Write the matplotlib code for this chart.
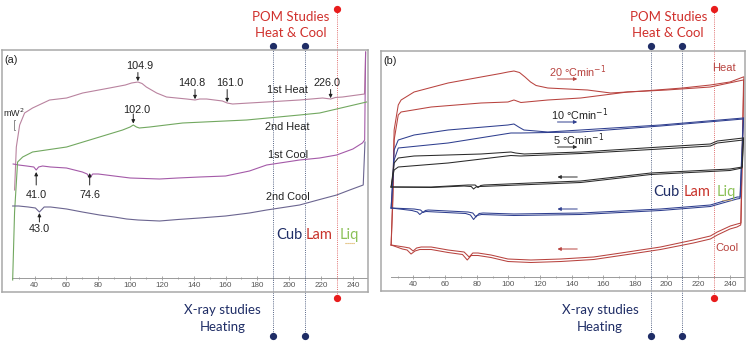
import matplotlib
matplotlib.use('Agg')
import matplotlib.pyplot as plt
import matplotlib.transforms as mtransforms

plt.rcParams['font.family'] = ['Liberation Sans', 'DejaVu Sans']

# ---------------- panel (a): DSC traces, T (degC) vs heat flow (mW, offset) ----
heat1_T = [27.4, 28.5, 30.6, 33.7, 38.7, 49.4, 60.1, 70.2, 87.1, 97.0, 100.9, 104.9, 107.5,
           110.2, 116.7, 122.9, 135.5, 140.8, 143.7, 148.1, 158.0, 161.0, 164.4, 175.0, 185.8,
           206.5, 221.0, 226.0, 229.0, 233.5, 247.3, 248.0]
heat1_HF = [10.2, 14.5, 16.7, 17.9, 18.4, 19.2, 19.4, 19.9, 20.4, 20.7, 20.9, 21.0, 20.85,
            20.5, 19.9, 19.5, 19.3, 19.2, 19.3, 19.3, 19.1, 18.9, 18.8, 18.9, 19.0,
            19.2, 19.4, 19.3, 19.45, 19.5, 19.8, 24.0]

cool1_T = [248.0, 247.4, 246.0, 240.0, 229.8, 219.1, 206.5, 185.8, 175.0, 160.0, 143.7, 130.0,
           118.5, 100.0, 90.0, 80.0, 76.5, 74.6, 73.0, 70.0, 60.0, 50.0, 45.0, 42.5, 41.0,
           39.5, 35.0, 30.0, 26.5]
cool1_HF = [24.0, 15.2, 14.9, 14.3, 13.7, 13.4, 13.2, 12.7, 12.1, 11.6, 11.5, 11.4,
            11.3, 11.4, 11.6, 11.8, 11.8, 11.4, 11.8, 12.0, 12.4, 12.5, 12.6, 12.5, 12.2,
            12.5, 12.6, 12.7, 12.8]

heat2_T = [26.2, 27.4, 29.3, 32.5, 38.7, 60.1, 80.8, 95.3, 100.0, 102.0, 104.0, 105.8, 112.3,
           133.0, 173.2, 206.5, 219.1, 248.6]
heat2_HF = [1.2, 8.0, 13.0, 13.5, 14.0, 14.5, 15.5, 16.2, 16.5, 16.7, 16.5, 16.4, 16.5,
            16.9, 17.2, 17.7, 17.9, 19.0]

cool2_T = [247.6, 246.5, 238.0, 229.8, 218.0, 206.5, 185.8, 175.0, 160.0, 143.7, 130.0, 118.5,
           105.0, 97.8, 90.0, 80.8, 70.0, 60.1, 50.0, 46.0, 43.0, 40.5, 36.0, 30.0, 26.2]
cool2_HF = [15.0, 10.7, 10.2, 9.7, 9.2, 8.7, 8.2, 7.9, 7.6, 7.4, 7.25, 7.1,
            7.2, 7.3, 7.5, 7.7, 8.0, 8.3, 8.5, 8.5, 8.0, 8.4, 8.5, 8.6, 8.6]

# labelled transition temperatures and where their labels sit
peaks_heat1 = [104.9, 140.8, 161.0, 226.0]
peaks_heat1_label_T = [106.0, 138.6, 162.5, 224.0]
peaks_heat1_label_HF = [22.6, 20.9, 20.9, 20.9]
peaks_heat1_HF = [21.0, 19.2, 18.9, 19.3]
peaks_heat2 = [102.0]
peaks_cool1 = [41.0, 74.6]
peaks_cool2 = [43.0]

# ---------------- panel (b): three heating rates (20, 10, 5 degC/min) ----------
r_heat1_T = [25.9, 27.0, 27.8, 30.4, 32.2, 40.4, 61.9, 82.7, 95.0, 99.7, 103.5, 107.0, 110.5,
             114.0, 117.5, 124.9, 137.5, 150.0, 164.6, 175.0, 185.4, 210.0, 227.6, 240.0, 248.4]
r_heat1_HF = [4.6, 10.0, 16.1, 18.6, 19.1, 19.9, 20.8, 21.4, 21.75, 21.9, 22.0, 21.85, 21.4,
              20.9, 20.55, 20.3, 20.2, 20.1, 19.8, 19.9, 20.0, 20.3, 20.6, 20.9, 21.4]
r_heat2_T = [25.9, 27.0, 27.8, 30.4, 32.2, 51.2, 82.7, 99.7, 103.5, 107.9, 124.9, 145.7, 175.3,
             200.0, 227.6, 248.4]
r_heat2_HF = [4.6, 9.0, 15.1, 17.6, 17.9, 18.4, 18.8, 18.9, 19.1, 18.85, 19.1, 19.3, 19.9,
              20.1, 20.4, 21.1]
r_cool1_T = [248.8, 247.0, 244.6, 240.2, 232.0, 227.6, 216.9, 196.1, 175.3, 153.9, 133.1, 114.2,
             99.7, 89.0, 80.8, 77.5, 75.2, 72.0, 61.9, 51.2, 44.9, 42.0, 39.8, 37.5, 34.1, 25.9]
r_cool1_HF = [21.4, 6.8, 6.7, 6.5, 5.9, 5.5, 5.1, 4.4, 3.9, 3.4, 3.2, 3.1,
              3.2, 3.6, 3.8, 3.8, 3.4, 3.9, 4.1, 4.4, 4.4, 4.3, 4.0, 4.3, 4.4, 4.6]
r_cool2_T = [248.6, 246.8, 244.4, 240.0, 232.0, 227.6, 216.9, 196.1, 175.3, 153.9, 133.1, 114.2,
             99.7, 89.0, 80.8, 76.5, 74.0, 71.0, 61.9, 51.2, 44.0, 41.0, 38.5, 36.0, 33.0, 25.9]
r_cool2_HF = [21.1, 6.6, 6.4, 6.2, 5.6, 5.2, 4.8, 4.15, 3.65, 3.15, 2.95, 2.85,
              2.95, 3.35, 3.55, 3.55, 3.1, 3.65, 3.85, 4.15, 4.15, 4.0, 3.7, 4.1, 4.2, 4.6]

b_heat1_T = [25.9, 27.0, 27.8, 30.4, 40.4, 61.9, 99.7, 103.5, 106.5, 109.8, 124.9, 145.7,
             196.1, 248.4]
b_heat1_HF = [8.3, 11.5, 14.1, 15.1, 15.6, 16.1, 16.6, 16.7, 16.4, 16.1, 15.9, 16.1,
              16.6, 17.3]
b_heat2_T = [25.9, 27.0, 27.8, 30.4, 61.9, 101.6, 107.9, 124.9, 145.7, 196.1, 248.4]
b_heat2_HF = [8.3, 11.0, 13.1, 14.3, 14.8, 15.8, 15.8, 15.85, 15.9, 16.5, 17.2]
b_cool1_T = [248.6, 246.5, 244.6, 227.6, 196.1, 145.7, 103.5, 84.0, 81.5, 79.5, 77.5, 74.5,
             49.3, 47.5, 46.1, 44.5, 40.4, 25.9]
b_cool1_HF = [17.3, 9.4, 9.4, 8.6, 8.2, 7.8, 7.7, 7.8, 7.75, 7.4, 7.8, 7.9,
              8.1, 8.05, 7.85, 8.1, 8.2, 8.3]
b_cool2_T = [248.4, 246.3, 244.4, 227.6, 196.1, 145.7, 103.5, 83.0, 80.0, 78.0, 76.0, 73.0,
             48.0, 45.5, 44.0, 42.5, 39.0, 25.9]
b_cool2_HF = [17.2, 9.25, 9.2, 8.45, 8.05, 7.65, 7.55, 7.65, 7.55, 7.15, 7.6, 7.75,
              7.95, 7.85, 7.65, 7.9, 8.05, 8.3]

k_heat1_T = [25.9, 27.0, 27.8, 30.4, 40.4, 82.7, 101.6, 104.5, 110.0, 145.7, 196.1, 227.6,
             232.0, 248.4]
k_heat1_HF = [10.4, 11.8, 12.8, 13.3, 13.5, 13.7, 13.9, 13.8, 13.7, 13.9, 14.4, 14.7,
              15.0, 15.3]
k_heat2_T = [25.9, 27.0, 27.8, 30.4, 61.9, 101.6, 107.9, 145.7, 196.1, 227.6, 232.0, 248.4]
k_heat2_HF = [10.4, 11.5, 12.1, 12.4, 12.8, 13.55, 13.5, 13.75, 14.2, 14.5, 14.8, 15.1]
k_cool1_T = [248.6, 247.8, 240.0, 190.0, 145.7, 114.2, 84.6, 82.5, 80.8, 79.0, 74.5, 51.2, 25.9]
k_cool1_HF = [15.3, 12.4, 12.2, 11.8, 11.0, 10.8, 10.6, 10.55, 10.35, 10.6, 10.6, 10.4, 10.4]
k_cool2_T = [248.4, 247.6, 240.0, 190.0, 145.7, 114.2, 82.0, 79.5, 78.0, 76.5, 72.0, 51.2, 25.9]
k_cool2_HF = [15.1, 12.3, 12.05, 11.65, 10.85, 10.65, 10.45, 10.4, 10.2, 10.45, 10.5, 10.35, 10.4]

# phase boundaries / measurement temperatures
xray_T = [190, 210]
pom_T = [230]
phases = ['Cub', 'Lam', 'Liq']
phase_T = [200, 219, 238]

NAVY = '#1f2d66'
RED = '#d0312d'
FRAME = '#a8a8a8'
TXT = '#222222'


def setup_panel(fig, rect):
    ax = fig.add_axes(rect)
    ax.set_xlim(19.5, 249.5)
    ax.set_xticks([])
    ax.set_yticks([])
    for s in ax.spines.values():
        s.set_color(FRAME)
        s.set_linewidth(1.1)
    sec = ax.secondary_xaxis(0.058)
    sec.set_xticks(range(40, 241, 20))
    sec.set_xticks(range(30, 251, 20), minor=True)
    sec.spines['bottom'].set_color('#9a9a9a')
    sec.spines['bottom'].set_linewidth(0.7)
    sec.spines['bottom'].set_bounds(26, 249)
    sec.tick_params(which='both', direction='inout', length=3, width=0.6, color='#9a9a9a',
                    labelsize=5.8, labelcolor='#555555', pad=1.5)
    sec.tick_params(which='minor', length=2)
    return ax


def study_lines(fig, ax):
    trans = mtransforms.blended_transform_factory(ax.transData, fig.transFigure)
    for T in xray_T:
        ax.plot([T, T], [0.015, 0.865], ls=(0, (1, 1.2)), lw=0.7, color='#5a6888',
                transform=trans, clip_on=False, zorder=1)
        ax.plot([T, T], [0.015, 0.865], ls='none', marker='o', ms=4.2, color=NAVY,
                transform=trans, clip_on=False)
    for T in pom_T:
        ax.plot([T, T], [0.126, 0.974], ls=(0, (1, 1.2)), lw=0.7, color='#e07070',
                transform=trans, clip_on=False, zorder=1)
        ax.plot([T, T], [0.126, 0.974], ls='none', marker='o', ms=4.2, color='#e81c1c',
                transform=trans, clip_on=False)
    ax.text(201, 0.950, 'POM Studies', transform=trans, ha='center', va='center',
            color=RED, fontsize=9.5, family=['Lato', 'DejaVu Sans'])
    ax.text(201, 0.903, 'Heat & Cool', transform=trans, ha='center', va='center',
            color=RED, fontsize=9.5, family=['Lato', 'DejaVu Sans'])
    ax.text(158, 0.091, 'X-ray studies', transform=trans, ha='center', va='center',
            color=NAVY, fontsize=9.5, family=['Lato', 'DejaVu Sans'])
    ax.text(158, 0.041, 'Heating', transform=trans, ha='center', va='center',
            color=NAVY, fontsize=9.5, family=['Lato', 'DejaVu Sans'])


def phase_labels(ax, y):
    colors = [NAVY, '#c8332b', '#8cc158']
    for name, T, c in zip(phases, phase_T, colors):
        ax.text(T, y, name, ha='center', va='center', color=c, fontsize=10.5,
                family=['Lato', 'DejaVu Sans'])
    ax.plot([234.8, 241.2], [y - 0.75, y - 0.75], ls=(0, (1, 0.8)), lw=0.8, color='#d9a84a')


def arrow(ax, x0, y0, x1, y1, color=TXT):
    ax.annotate('', xy=(x1, y1), xytext=(x0, y0),
                arrowprops=dict(arrowstyle='-|>', lw=0.7, color=color, mutation_scale=5,
                                shrinkA=0, shrinkB=0))


def main():
    fig = plt.figure(figsize=(7.5, 3.41), dpi=100)

    # ---------------- (a)
    ax = setup_panel(fig, [2 / 750, 49 / 341, 366 / 750, 242 / 341])
    ax.set_ylim(0, 24.2)
    ax.plot(heat1_T, heat1_HF, color='#b9839f', lw=0.8)
    ax.plot(cool1_T, cool1_HF, color='#a45aa8', lw=0.8)
    ax.plot(heat2_T, heat2_HF, color='#72a860', lw=0.8)
    ax.plot(cool2_T, cool2_HF, color='#6b6590', lw=0.8)

    ax.text(21, 23.2, '(a)', fontsize=7.8, color=TXT, va='center')
    ax.text(20.3, 17.9, 'mW$^2$', fontsize=6.5, color=TXT, va='center')
    ax.plot([27.8, 26.9, 26.9, 27.8], [17.2, 17.2, 16.2, 16.2], color='#777777', lw=0.6)

    fs = 7.8
    for T, hf, lt, lh in zip(peaks_heat1, peaks_heat1_HF, peaks_heat1_label_T,
                             peaks_heat1_label_HF):
        arrow(ax, T, lh - 0.65, T, hf + 0.08)
        ax.text(lt, lh, '%.1f' % T, fontsize=fs, color=TXT, ha='center', va='center')
    for T in peaks_heat2:
        arrow(ax, T, 17.8, T, 16.85)
        ax.text(T + 2.0, 18.2, '%.1f' % T, fontsize=fs, color=TXT, ha='center', va='center')
    for T in peaks_cool1:
        arrow(ax, T, 10.7, T, 11.9 if T > 50 else 12.0)
        ax.text(T, 9.7, '%.1f' % T, fontsize=fs, color=TXT, ha='center', va='center')
    for T in peaks_cool2:
        arrow(ax, T, 7.0, T, 7.9)
        ax.text(T, 6.3, '%.1f' % T, fontsize=fs, color=TXT, ha='center', va='center')

    for label, y in [('1st Heat', 20.2), ('2nd Heat', 16.5), ('1st Cool', 13.7), ('2nd Cool', 9.5)]:
        ax.text(199, y, label, fontsize=fs, color=TXT, ha='center', va='center')
    phase_labels(ax, 5.7)
    study_lines(fig, ax)

    # ---------------- (b)
    bx = setup_panel(fig, [381 / 750, 50 / 341, 364 / 750, 240 / 341])
    bx.set_ylim(0, 24.0)
    red, blue, black = '#b8433f', '#2f3f8f', '#2b2b2b'
    for T, HF, c in [(r_heat1_T, r_heat1_HF, red), (r_heat2_T, r_heat2_HF, red),
                     (r_cool1_T, r_cool1_HF, red), (r_cool2_T, r_cool2_HF, red),
                     (b_heat1_T, b_heat1_HF, blue), (b_heat2_T, b_heat2_HF, blue),
                     (b_cool1_T, b_cool1_HF, blue), (b_cool2_T, b_cool2_HF, blue),
                     (k_heat1_T, k_heat1_HF, black), (k_heat2_T, k_heat2_HF, black),
                     (k_cool1_T, k_cool1_HF, black), (k_cool2_T, k_cool2_HF, black)]:
        bx.plot(T, HF, color=c, lw=0.75)

    bx.text(21, 23.0, '(b)', fontsize=7.8, color=TXT, va='center')
    bx.text(125.5, 21.9, '20 °Cmin$^{-1}$', fontsize=fs, color=red, va='center')
    bx.text(126.7, 17.6, '10 °Cmin$^{-1}$', fontsize=fs, color=TXT, va='center')
    bx.text(128.0, 15.1, '5 °Cmin$^{-1}$', fontsize=fs, color=TXT, va='center')
    arrow(bx, 131, 21.2, 143.5, 21.2, red)
    arrow(bx, 131, 16.9, 143.5, 16.9, blue)
    arrow(bx, 131, 14.4, 143.5, 14.4, black)
    arrow(bx, 143.5, 11.4, 131, 11.4, black)
    arrow(bx, 143.5, 8.2, 131, 8.2, blue)
    arrow(bx, 143.5, 4.2, 131, 4.2, red)
    bx.text(236, 22.3, 'Heat', fontsize=8, color=red, ha='center', va='center')
    bx.text(238.3, 4.3, 'Cool', fontsize=8, color=red, ha='center', va='center')
    phase_labels(bx, 9.9)
    study_lines(fig, bx)

    fig.savefig('out.png', dpi=100)


if __name__ == '__main__':
    main()
